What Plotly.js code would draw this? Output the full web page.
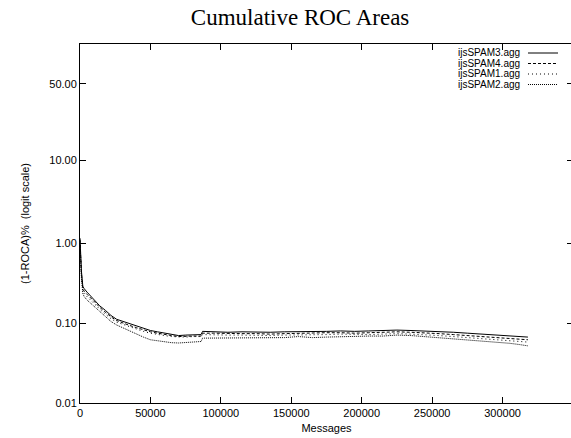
<!DOCTYPE html>
<html>
<head>
<meta charset="utf-8">
<script src="https://cdn.plot.ly/plotly-3.0.1.min.js"></script>
<style>
html, body { margin: 0; padding: 0; overflow: hidden; background: #fff; }
#chart { width: 576px; height: 438px; }
</style>
</head>
<body>
<div id="chart"></div>
<script>
// Messages processed (x) and cumulative (1-ROCA)% values for each run
const messages = [0, 500, 1000, 2000, 3000, 5000, 8000, 11000, 14000, 18000, 22000, 26000, 30000, 35000, 40000, 45000, 50000, 55000, 60000, 65000, 70000, 75000, 80000, 86000, 87000, 95000, 105000, 115000, 125000, 135000, 145000, 155000, 165000, 175000, 185000, 195000, 205000, 215000, 225000, 235000, 245000, 255000, 265000, 275000, 285000, 295000, 305000, 312000, 318000];

const ijsSPAM3 = [1.15, 0.70, 0.45, 0.29, 0.27, 0.245, 0.215, 0.19, 0.165, 0.145, 0.125, 0.112, 0.106, 0.098, 0.092, 0.086, 0.081, 0.078, 0.075, 0.072, 0.070, 0.071, 0.072, 0.072, 0.079, 0.078, 0.077, 0.078, 0.077, 0.077, 0.078, 0.078, 0.079, 0.079, 0.080, 0.079, 0.080, 0.081, 0.082, 0.081, 0.080, 0.079, 0.077, 0.075, 0.073, 0.071, 0.069, 0.068, 0.067];

const ijsSPAM4 = [1.10, 0.65, 0.42, 0.27, 0.25, 0.23, 0.205, 0.18, 0.158, 0.138, 0.12, 0.108, 0.101, 0.094, 0.088, 0.082, 0.078, 0.075, 0.072, 0.070, 0.068, 0.069, 0.069, 0.069, 0.075, 0.075, 0.074, 0.074, 0.074, 0.073, 0.074, 0.075, 0.075, 0.076, 0.076, 0.075, 0.076, 0.077, 0.078, 0.077, 0.076, 0.074, 0.072, 0.070, 0.068, 0.066, 0.064, 0.063, 0.062];

const ijsSPAM1 = [1.05, 0.60, 0.40, 0.255, 0.235, 0.215, 0.19, 0.17, 0.15, 0.13, 0.114, 0.103, 0.097, 0.090, 0.084, 0.079, 0.075, 0.072, 0.070, 0.068, 0.067, 0.067, 0.068, 0.068, 0.072, 0.071, 0.071, 0.071, 0.070, 0.070, 0.071, 0.071, 0.072, 0.072, 0.073, 0.072, 0.072, 0.073, 0.074, 0.073, 0.072, 0.070, 0.068, 0.066, 0.064, 0.062, 0.060, 0.059, 0.058];

const ijsSPAM2 = [1.00, 0.55, 0.37, 0.235, 0.215, 0.195, 0.175, 0.155, 0.137, 0.12, 0.105, 0.095, 0.088, 0.081, 0.074, 0.067, 0.062, 0.060, 0.058, 0.057, 0.0565, 0.057, 0.058, 0.059, 0.065, 0.065, 0.066, 0.066, 0.065, 0.066, 0.066, 0.068, 0.066, 0.067, 0.068, 0.068, 0.069, 0.069, 0.071, 0.070, 0.068, 0.066, 0.064, 0.062, 0.060, 0.058, 0.056, 0.054, 0.052];

const seriesNames = ["ijsSPAM3.agg", "ijsSPAM4.agg", "ijsSPAM1.agg", "ijsSPAM2.agg"];
const seriesDash = ["solid", "3px,2px", "1px,3px", "1px,1px"];

const xTickVals = [0, 50000, 100000, 150000, 200000, 250000, 300000, 350000];
const xTickText = ["0", "50000", "100000", "150000", "200000", "250000", "300000", "350000"];
const yTickPercents = [0.01, 0.1, 1, 10, 50];
const yTickText = ["0.01", "0.10", "1.00", "10.00", "50.00"];

// logit scale for percentages
function logit(pct) { const p = pct / 100; return Math.log(p / (1 - p)); }

const allSeries = [ijsSPAM3, ijsSPAM4, ijsSPAM1, ijsSPAM2];
const traces = allSeries.map((vals, i) => ({
  x: messages,
  y: vals.map(logit),
  type: "scatter",
  mode: "lines",
  name: seriesNames[i],
  line: { color: "#000", width: 1, dash: seriesDash[i] },
  showlegend: false,
  hoverinfo: "skip"
}));

// Legend drawn with text on the left and line sample on the right
const plotTop = 44, plotH = 359;
const legendRowsPx = [53, 63.5, 74, 84.5];
const legendRowsY = legendRowsPx.map(py => (plotTop + plotH - py) / plotH);
const annotations = seriesNames.map((n, i) => ({
  xref: "paper", yref: "paper", x: 0.8966, y: legendRowsY[i],
  xanchor: "right", yanchor: "middle", text: n, showarrow: false,
  font: { family: "Liberation Sans, Arial, sans-serif", size: 10, color: "#000" }
}));
const shapes = seriesNames.map((n, i) => ({
  type: "line", xref: "paper", yref: "paper",
  x0: 0.9087, x1: 0.9696, y0: legendRowsY[i], y1: legendRowsY[i],
  line: { color: "#000", width: 1, dash: seriesDash[i] }
}));

const tickFont = { family: "Liberation Sans, Arial, sans-serif", size: 11, color: "#000" };

const layout = {
  width: 576, height: 438,
  margin: { l: 80, r: 3, t: 44, b: 35, pad: 0 },
  paper_bgcolor: "#fff", plot_bgcolor: "#fff",
  title: {
    text: "Cumulative ROC Areas",
    font: { family: "Liberation Serif, Times New Roman, serif", size: 23, color: "#000" },
    x: 0.521, xanchor: "center", y: 0.962, yanchor: "middle"
  },
  xaxis: {
    range: [0, 350000],
    tickmode: "array", tickvals: xTickVals, ticktext: xTickText,
    ticks: "inside", ticklen: 6, tickwidth: 1, tickcolor: "#000",
    showline: true, linecolor: "#000", linewidth: 1, mirror: "ticks",
    showgrid: false, zeroline: false,
    tickfont: tickFont,
    title: { text: "Messages", font: tickFont, standoff: 6 },
    automargin: false
  },
  yaxis: {
    range: [logit(0.01), logit(76)],
    tickmode: "array", tickvals: yTickPercents.map(logit), ticktext: yTickText,
    ticks: "inside", ticklen: 6, tickwidth: 1, tickcolor: "#000",
    showline: true, linecolor: "#000", linewidth: 1, mirror: "ticks",
    showgrid: false, zeroline: false,
    tickfont: tickFont,
    title: { text: "(1-ROCA)%&nbsp;&nbsp;(logit scale)", font: tickFont, standoff: 17 },
    automargin: false
  },
  annotations: annotations,
  shapes: shapes
};

Plotly.newPlot("chart", traces, layout, { staticPlot: true, displayModeBar: false });
</script>
</body>
</html>
